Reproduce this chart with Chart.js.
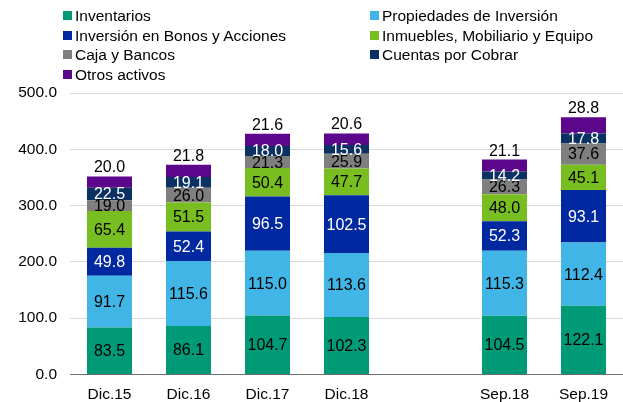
<!DOCTYPE html>
<html>
<head>
<meta charset="utf-8">
<script src="https://cdn.jsdelivr.net/npm/chart.js@4.4.1/dist/chart.umd.min.js"></script>
<style>
    body { margin: 0; background: #fff; }
    #wrap { position: relative; width: 623px; height: 402px; }
    #legend { position: absolute; left: 0; top: 0; width: 623px; height: 86px;
        font-family: "Liberation Sans", Arial, sans-serif; font-size: 15.5px; color: #000; }
    .item { position: absolute; height: 19px; line-height: 19px; white-space: nowrap; }
    .box { position: absolute; top: 5px; width: 9px; height: 9px; }
</style>
</head>
<body>
<div id="wrap">
    <canvas id="chart"></canvas>
    <div id="legend"></div>
</div>
<script>
let categories = ["Dic.15", "Dic.16", "Dic.17", "Dic.18", "", "Sep.18", "Sep.19"];

let inventarios = [83.5, 86.1, 104.7, 102.3, null, 104.5, 122.1];
let propiedades = [91.7, 115.6, 115.0, 113.6, null, 115.3, 112.4];
let bonosAcciones = [49.8, 52.4, 96.5, 102.5, null, 52.3, 93.1];
let inmuebles = [65.4, 51.5, 50.4, 47.7, null, 48.0, 45.1];
let cajaBancos = [19.0, 26.0, 21.3, 25.9, null, 26.3, 37.6];
let cuentasCobrar = [22.5, 19.1, 18.0, 15.6, null, 14.2, 17.8];
let otrosActivos = [20.0, 21.8, 21.6, 20.6, null, 21.1, 28.8];

let yTicks = [0, 100, 200, 300, 400, 500];

let fontFamily = "'Liberation Sans', Arial, sans-serif";

let datasets = [
    { label: "Inventarios", data: inventarios, backgroundColor: "#009a77", labelColor: "#000" },
    { label: "Propiedades de Inversión", data: propiedades, backgroundColor: "#41b6e6", labelColor: "#000" },
    { label: "Inversión en Bonos y Acciones", data: bonosAcciones, backgroundColor: "#0028a0", labelColor: "#fff" },
    { label: "Inmuebles, Mobiliario y Equipo", data: inmuebles, backgroundColor: "#78be20", labelColor: "#000" },
    { label: "Caja y Bancos", data: cajaBancos, backgroundColor: "#7f7f7f", labelColor: "#000" },
    { label: "Cuentas por Cobrar", data: cuentasCobrar, backgroundColor: "#0a3161", labelColor: "#fff" },
    { label: "Otros activos", data: otrosActivos, backgroundColor: "#5c068c", labelColor: "#000" }
];

for (let i = 0; i < datasets.length; i++) {
    datasets[i].barPercentage = 0.57;
    datasets[i].categoryPercentage = 1.0;
    datasets[i].borderWidth = 0;
}

// etiquetas de valores dentro de las barras (la ultima serie va encima)
let valueLabels = {
    id: "valueLabels",
    afterDatasetsDraw: function(chart) {
        let ctx = chart.ctx;
        ctx.save();
        ctx.font = "16px " + fontFamily;
        ctx.textAlign = "center";
        let last = chart.data.datasets.length - 1;
        for (let d = 0; d <= last; d++) {
            let ds = chart.data.datasets[d];
            let meta = chart.getDatasetMeta(d);
            for (let i = 0; i < meta.data.length; i++) {
                let v = ds.data[i];
                if (v === null) continue;
                let bar = meta.data[i];
                ctx.fillStyle = ds.labelColor;
                if (d === last) {
                    ctx.textBaseline = "alphabetic";
                    ctx.fillText(v.toFixed(1), bar.x, bar.y - 4);
                } else {
                    ctx.textBaseline = "middle";
                    ctx.fillText(v.toFixed(1), bar.x, (bar.y + bar.base) / 2 + 1);
                }
            }
        }
        ctx.restore();
    }
};

let chart = new Chart(document.getElementById("chart"), {
    type: "bar",
    data: {
        labels: categories,
        datasets: datasets
    },
    options: {
        responsive: true,
        maintainAspectRatio: false,
        animation: false,
        layout: { padding: { top: 93, right: 0, bottom: 0, left: 0 } },
        plugins: {
            legend: { display: false },
            tooltip: { enabled: false }
        },
        scales: {
            x: {
                stacked: true,
                afterFit: function(scale) { scale.height = 27.5; },
                grid: { display: false, drawTicks: false },
                border: { color: "#6e6e6e", width: 1 },
                ticks: { color: "#000", padding: 11, maxRotation: 0, font: { family: fontFamily, size: 15.5 } }
            },
            y: {
                stacked: true,
                min: yTicks[0],
                max: yTicks[yTicks.length - 1],
                afterFit: function(scale) { scale.width = 70; },
                afterBuildTicks: function(scale) {
                    scale.ticks = yTicks.map(function(v) { return { value: v }; });
                },
                grid: { color: "#d9d9d9", drawTicks: false },
                border: { display: false },
                ticks: {
                    color: "#000",
                    padding: 13,
                    font: { family: fontFamily, size: 15.5 },
                    callback: function(v) { return v.toFixed(1); }
                }
            }
        }
    },
    plugins: [valueLabels]
});

// leyenda en dos columnas
let legend = document.getElementById("legend");
let colX = [63, 370];
let rowY = [6, 25.5, 45, 64.5];
for (let i = 0; i < datasets.length; i++) {
    let item = document.createElement("div");
    item.className = "item";
    item.style.left = colX[i % 2] + "px";
    item.style.top = rowY[Math.floor(i / 2)] + "px";
    let box = document.createElement("span");
    box.className = "box";
    box.style.background = datasets[i].backgroundColor;
    let text = document.createElement("span");
    text.style.marginLeft = "12px";
    text.textContent = datasets[i].label;
    item.appendChild(box);
    item.appendChild(text);
    legend.appendChild(item);
}
</script>
</body>
</html>
